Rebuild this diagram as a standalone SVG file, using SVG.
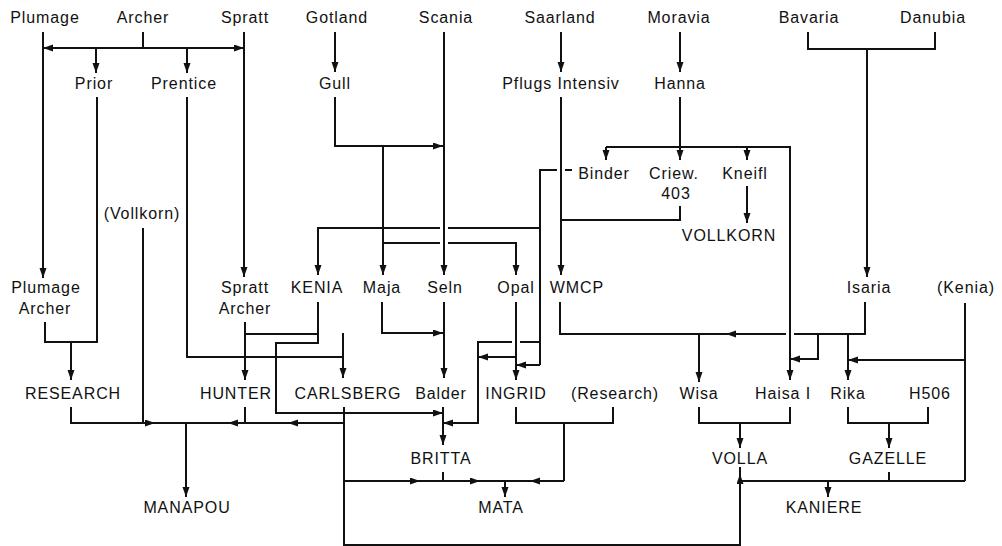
<svg xmlns="http://www.w3.org/2000/svg" width="1002" height="546" viewBox="0 0 1002 546">
<style>
text{font-family:"Liberation Sans",Arial,sans-serif;font-size:16px;letter-spacing:0.9px;fill:#111;text-anchor:middle}
.ln path{fill:none;stroke:#111;stroke-width:2}
.ar{marker-end:url(#ah)}
</style>
<defs>
<marker id="ah" markerWidth="10" markerHeight="8" refX="10" refY="3.5" orient="auto" markerUnits="userSpaceOnUse"><path d="M0,0 L10,3.5 L0,7 z" fill="#111"/></marker>
</defs>
<rect width="1002" height="546" fill="#fff"/>
<g id="connectors" class="ln">
<path d="M143,32 V48"/>
<path class="ar" d="M143,48 H43"/>
<path class="ar" d="M143,48 H244"/>
<path class="ar" d="M96,48 V73"/>
<path class="ar" d="M187,48 V73"/>
<path class="ar" d="M43,32 V278"/>
<path class="ar" d="M244,32 V277"/>
<path class="ar" d="M335,32 V72"/>
<path class="ar" d="M561,32 V72"/>
<path class="ar" d="M680,32 V72"/>
<path class="ar" d="M444,32 V275"/>
<path class="ar" d="M335,97 V146 H443"/>
<path class="ar" d="M383,146 V275"/>
<path d="M540,365 V170 H557"/>
<path d="M565,170 H572"/>
<path d="M540,228 H448"/>
<path class="ar" d="M440,228 H318 V275"/>
<path d="M383,243 H440"/>
<path class="ar" d="M448,243 H516 V275"/>
<path class="ar" d="M680,97 V160"/>
<path class="ar" d="M606,147 V160"/>
<path class="ar" d="M606,147 H790 V380"/>
<path class="ar" d="M747,147 V160"/>
<path class="ar" d="M747,186 V223"/>
<path d="M680,206 V220 H561"/>
<path class="ar" d="M561,97 V275"/>
<path d="M808,32 V49 H935 V32"/>
<path class="ar" d="M867,49 V277"/>
<path d="M560,302 V334 H786"/>
<path d="M794,334 H865 V302"/>
<path class="ar" d="M760,334 H726"/>
<path class="ar" d="M699,334 V382"/>
<path class="ar" d="M818,334 V359 H790"/>
<path class="ar" d="M848,334 V380"/>
<path d="M965,303 V481"/>
<path class="ar" d="M965,360 H848"/>
<path d="M45,322 V342 H97 V97"/>
<path class="ar" d="M71,342 V380"/>
<path d="M187,97 V357 H343"/>
<path class="ar" d="M245,322 V380"/>
<path d="M245,334 H318"/>
<path class="ar" d="M318,302 V343 H276 V413 H443"/>
<path class="ar" d="M382,302 V333 H443"/>
<path class="ar" d="M343,333 V378"/>
<path class="ar" d="M444,302 V378"/>
<path class="ar" d="M516,302 V380"/>
<path d="M540,342 H520"/>
<path class="ar" d="M512,342 H478 V423 H443"/>
<path class="ar" d="M516,357 H478"/>
<path class="ar" d="M540,365 H516"/>
<path d="M516,407 V423 H613 V407"/>
<path d="M564,423 V481"/>
<path class="ar" d="M443,407 V445"/>
<path d="M443,472 V481"/>
<path d="M344,407 V545 H740 V467"/>
<path class="ar" d="M740,500 V474"/>
<path d="M344,481 H564"/>
<path class="ar" d="M344,481 H420"/>
<path class="ar" d="M450,481 H480"/>
<path class="ar" d="M564,481 H530"/>
<path class="ar" d="M505,481 V497"/>
<path d="M344,423 H71 V407"/>
<path class="ar" d="M344,423 H288"/>
<path class="ar" d="M245,423 H228"/>
<path class="ar" d="M71,423 H155"/>
<path d="M245,407 V423"/>
<path d="M143,228 V423"/>
<path class="ar" d="M186,423 V497"/>
<path d="M699,407 V423 H790 V407"/>
<path class="ar" d="M740,423 V448"/>
<path d="M740,481 H965"/>
<path class="ar" d="M828,481 V497"/>
<path d="M889,472 V481"/>
<path d="M848,407 V423 H928 V407"/>
<path class="ar" d="M889,423 V448"/>
</g>
<g id="n-plumage"><text x="45" y="23">Plumage</text></g>
<g id="n-archer"><text x="143" y="23">Archer</text></g>
<g id="n-spratt"><text x="245" y="23">Spratt</text></g>
<g id="n-gotland"><text x="337" y="23">Gotland</text></g>
<g id="n-scania"><text x="446" y="23">Scania</text></g>
<g id="n-saarland"><text x="560" y="23">Saarland</text></g>
<g id="n-moravia"><text x="679" y="23">Moravia</text></g>
<g id="n-bavaria"><text x="809" y="23">Bavaria</text></g>
<g id="n-danubia"><text x="933" y="23">Danubia</text></g>
<g id="n-prior"><text x="94" y="89">Prior</text></g>
<g id="n-prentice"><text x="184" y="89">Prentice</text></g>
<g id="n-gull"><text x="335" y="89">Gull</text></g>
<g id="n-pflugs"><text x="561" y="89">Pflugs Intensiv</text></g>
<g id="n-hanna"><text x="680" y="89">Hanna</text></g>
<g id="n-binder"><text x="604" y="179">Binder</text></g>
<g id="n-criew"><text x="674" y="179">Criew.</text><text x="676" y="199">403</text></g>
<g id="n-kneifl"><text x="745" y="179">Kneifl</text></g>
<g id="n-vollkorn-p"><text x="142" y="219">(Vollkorn)</text></g>
<g id="n-vollkorn"><text x="729" y="241">VOLLKORN</text></g>
<g id="n-plumage-archer"><text x="46" y="293">Plumage</text><text x="45" y="314">Archer</text></g>
<g id="n-spratt-archer"><text x="245" y="293">Spratt</text><text x="245" y="314">Archer</text></g>
<g id="n-kenia"><text x="317" y="293">KENIA</text></g>
<g id="n-maja"><text x="382" y="293">Maja</text></g>
<g id="n-seln"><text x="445" y="293">Seln</text></g>
<g id="n-opal"><text x="516" y="293">Opal</text></g>
<g id="n-wmcp"><text x="577" y="293">WMCP</text></g>
<g id="n-isaria"><text x="869" y="293">Isaria</text></g>
<g id="n-kenia-p"><text x="966" y="293">(Kenia)</text></g>
<g id="n-research"><text x="73" y="399">RESEARCH</text></g>
<g id="n-hunter"><text x="236" y="399">HUNTER</text></g>
<g id="n-carlsberg"><text x="348" y="399">CARLSBERG</text></g>
<g id="n-balder"><text x="441" y="399">Balder</text></g>
<g id="n-ingrid"><text x="516" y="399">INGRID</text></g>
<g id="n-research-p"><text x="615" y="399">(Research)</text></g>
<g id="n-wisa"><text x="699" y="399">Wisa</text></g>
<g id="n-haisa"><text x="783" y="399">Haisa I</text></g>
<g id="n-rika"><text x="848" y="399">Rika</text></g>
<g id="n-h506"><text x="930" y="399">H506</text></g>
<g id="n-britta"><text x="441" y="464">BRITTA</text></g>
<g id="n-volla"><text x="740" y="464">VOLLA</text></g>
<g id="n-gazelle"><text x="888" y="464">GAZELLE</text></g>
<g id="n-manapou"><text x="187" y="513">MANAPOU</text></g>
<g id="n-mata"><text x="501" y="513">MATA</text></g>
<g id="n-kaniere"><text x="824" y="513">KANIERE</text></g>
</svg>
